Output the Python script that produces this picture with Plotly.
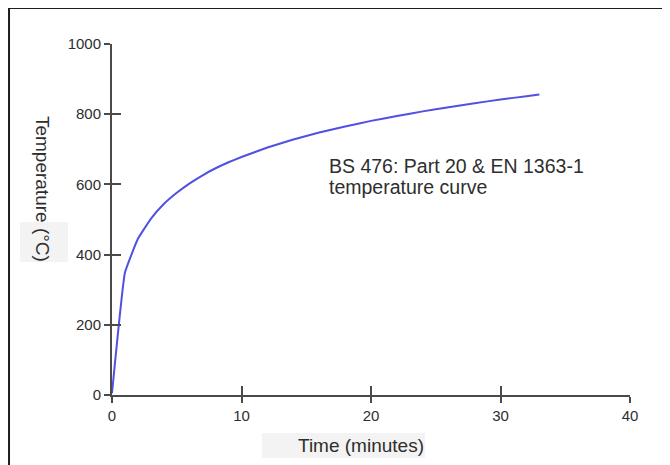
import plotly.graph_objects as go

# Data
time_min = [0, 1, 2, 3, 4, 5, 6, 7, 8, 9, 10, 12, 14, 16, 18, 20, 22, 24, 26, 28, 30, 32, 33]
temperature_c = [5, 349, 445, 502, 544, 576, 603, 626, 646, 663, 678, 705, 728, 748, 765,
                 781, 795, 808, 820, 831, 842, 851, 856]
x_ticks = [0, 10, 20, 30, 40]
y_ticks = [0, 200, 400, 600, 800, 1000]

FONT = "Liberation Sans, Arial, sans-serif"
AXIS_COLOR = "#4a4a4a"
TEXT_COLOR = "#2e2e2e"

fig = go.Figure()
fig.add_trace(go.Scatter(
    x=time_min, y=temperature_c, mode="lines", line_shape="spline",
    line=dict(color="#5050e4", width=2, smoothing=0.3),
    showlegend=False, hoverinfo="skip",
))
# empty trace to host the overlay axes that draw the inner half of the crossing ticks
fig.add_trace(go.Scatter(x=[], y=[], xaxis="x2", yaxis="y2", showlegend=False))

common = dict(showgrid=False, zeroline=False, tickcolor=AXIS_COLOR, tickwidth=1.5,
              tickfont=dict(family=FONT, size=15, color=TEXT_COLOR))

# the page body adds an 8px offset, so the figure is 8px smaller and margins shifted
fig.update_layout(
    width=662, height=457,
    margin=dict(l=104, r=40, t=36, b=70),
    paper_bgcolor="white", plot_bgcolor="white",
    font=dict(family=FONT, color=TEXT_COLOR),
    xaxis=dict(range=[0, 40], tickvals=x_ticks, ticks="outside", ticklen=6,
               showline=True, linecolor=AXIS_COLOR, linewidth=2, **common),
    yaxis=dict(range=[0, 1000], tickvals=y_ticks, ticks="outside", ticklen=6,
               showline=True, linecolor=AXIS_COLOR, linewidth=2, **common),
    xaxis2=dict(range=[0, 40], tickvals=x_ticks, ticks="inside", ticklen=9,
                overlaying="x", anchor="y", side="bottom", showticklabels=False,
                showline=False, **common),
    yaxis2=dict(range=[0, 1000], tickvals=y_ticks, ticks="inside", ticklen=9,
                overlaying="y", anchor="x", side="left", showticklabels=False,
                showline=False, **common),
)

# outer frame and faint grey patches behind the axis titles
fig.add_shape(type="rect", xref="paper", yref="paper",
              x0=-0.1988, x1=1.12, y0=-0.25, y1=1.1026,
              line=dict(color="#1e1e1e", width=2), fillcolor="rgba(0,0,0,0)", layer="below")
fig.add_shape(type="rect", xref="paper", yref="paper",
              x0=0.2896, x1=0.6042, y0=-0.1795, y1=-0.1083,
              line=dict(width=0), fillcolor="#f3f3f3", layer="below")
fig.add_shape(type="rect", xref="paper", yref="paper",
              x0=-0.1776, x1=-0.0849, y0=0.3789, y1=0.4929,
              line=dict(width=0), fillcolor="#f3f3f3", layer="below")

# axis titles
fig.add_annotation(text="Time (minutes)", xref="paper", yref="paper",
                   x=0.4807, y=-0.1425, xanchor="center", yanchor="middle",
                   showarrow=False, font=dict(family=FONT, size=19, color=TEXT_COLOR))
fig.add_annotation(text="Temperature (°C)", xref="paper", yref="paper",
                   x=-0.1351, y=0.587, xanchor="center", yanchor="middle", textangle=90,
                   showarrow=False, font=dict(family=FONT, size=19, color=TEXT_COLOR))

# curve label
fig.add_annotation(text="BS 476: Part 20 &amp; EN 1363-1", xref="paper", yref="paper",
                   x=0.415, y=0.6524, xanchor="left", yanchor="middle",
                   showarrow=False, font=dict(family=FONT, size=19.5, color=TEXT_COLOR))
fig.add_annotation(text="temperature curve", xref="paper", yref="paper",
                   x=0.415, y=0.594, xanchor="left", yanchor="middle",
                   showarrow=False, font=dict(family=FONT, size=19.5, color=TEXT_COLOR))

fig.write_html("out.html")
